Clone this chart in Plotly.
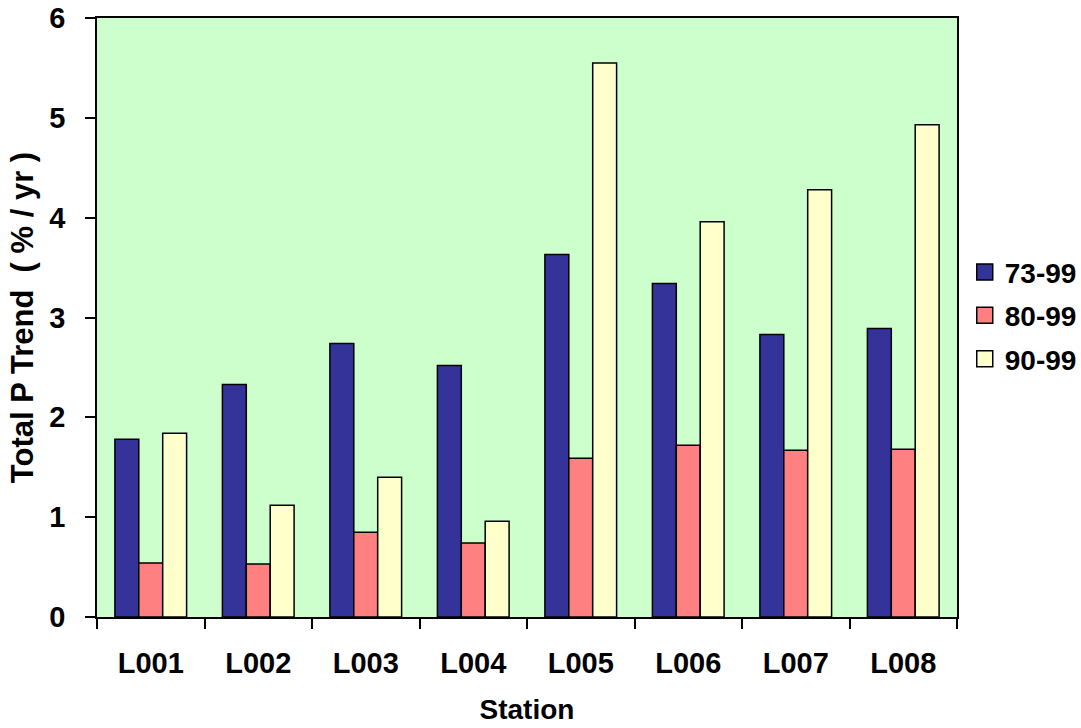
import plotly.graph_objects as go

stations = ["L001", "L002", "L003", "L004", "L005", "L006", "L007", "L008"]
series_names = ["73-99", "80-99", "90-99"]
trend_73_99 = [1.78, 2.33, 2.74, 2.52, 3.63, 3.34, 2.83, 2.89]
trend_80_99 = [0.54, 0.53, 0.85, 0.74, 1.59, 1.72, 1.67, 1.68]
trend_90_99 = [1.84, 1.12, 1.40, 0.96, 5.55, 3.96, 4.28, 4.93]
y_ticks = [0, 1, 2, 3, 4, 5, 6]

colors = ["#333399", "#FF8080", "#FFFFCC"]
values = [trend_73_99, trend_80_99, trend_90_99]

FONT = "Liberation Sans, Arial, sans-serif"
FS = 29

fig = go.Figure()
for name, vals, col in zip(series_names, values, colors):
    fig.add_trace(go.Bar(
        x=stations, y=vals, name=name, showlegend=False,
        marker=dict(color=col, line=dict(color="black", width=1.5)),
    ))
# legend entries with large square swatches
for name, col in zip(series_names, colors):
    fig.add_trace(go.Scatter(
        x=[None], y=[None], mode="markers", name=name, legendgroup=name,
        marker=dict(symbol="square", size=19, color=col,
                    line=dict(color="black", width=1.5)),
    ))

fig.update_layout(
    width=1081, height=728,
    margin=dict(l=97, r=124, t=18, b=111, autoexpand=False),
    paper_bgcolor="white",
    plot_bgcolor="#CCFFCC",
    barmode="group",
    bargap=0.333,
    bargroupgap=0,
    font=dict(family=FONT, size=FS, color="black"),
    legend=dict(
        x=1.009, y=0.503, xanchor="left", yanchor="middle",
        font=dict(family=FONT, size=28, color="black", weight="bold"),
        itemwidth=30, tracegroupgap=4,
        bgcolor="rgba(0,0,0,0)",
    ),
    xaxis=dict(
        type="category",
        showline=True, linecolor="black", linewidth=1.5, mirror=True,
        ticks="outside", ticklen=10, tickcolor="black", tickwidth=1.5,
        tickson="boundaries",
        tickfont=dict(family=FONT, size=FS, weight="bold"),
        ticklabelstandoff=19,
        title=dict(text="<b>Station</b>", font=dict(family=FONT, size=28), standoff=22),
        showgrid=False,
    ),
    yaxis=dict(
        range=[0, 6], tickvals=y_ticks,
        showline=True, linecolor="black", linewidth=1.5, mirror=True,
        ticks="outside", ticklen=10, tickcolor="black", tickwidth=1.5,
        tickfont=dict(family=FONT, size=FS, weight="bold"),
        ticklabelstandoff=14,
        title=dict(text="<b>Total P Trend \u00a0( % / yr )</b>",
                   font=dict(family=FONT, size=31), standoff=6),
        showgrid=False, zeroline=False,
    ),
)

fig.write_html("out.html")
